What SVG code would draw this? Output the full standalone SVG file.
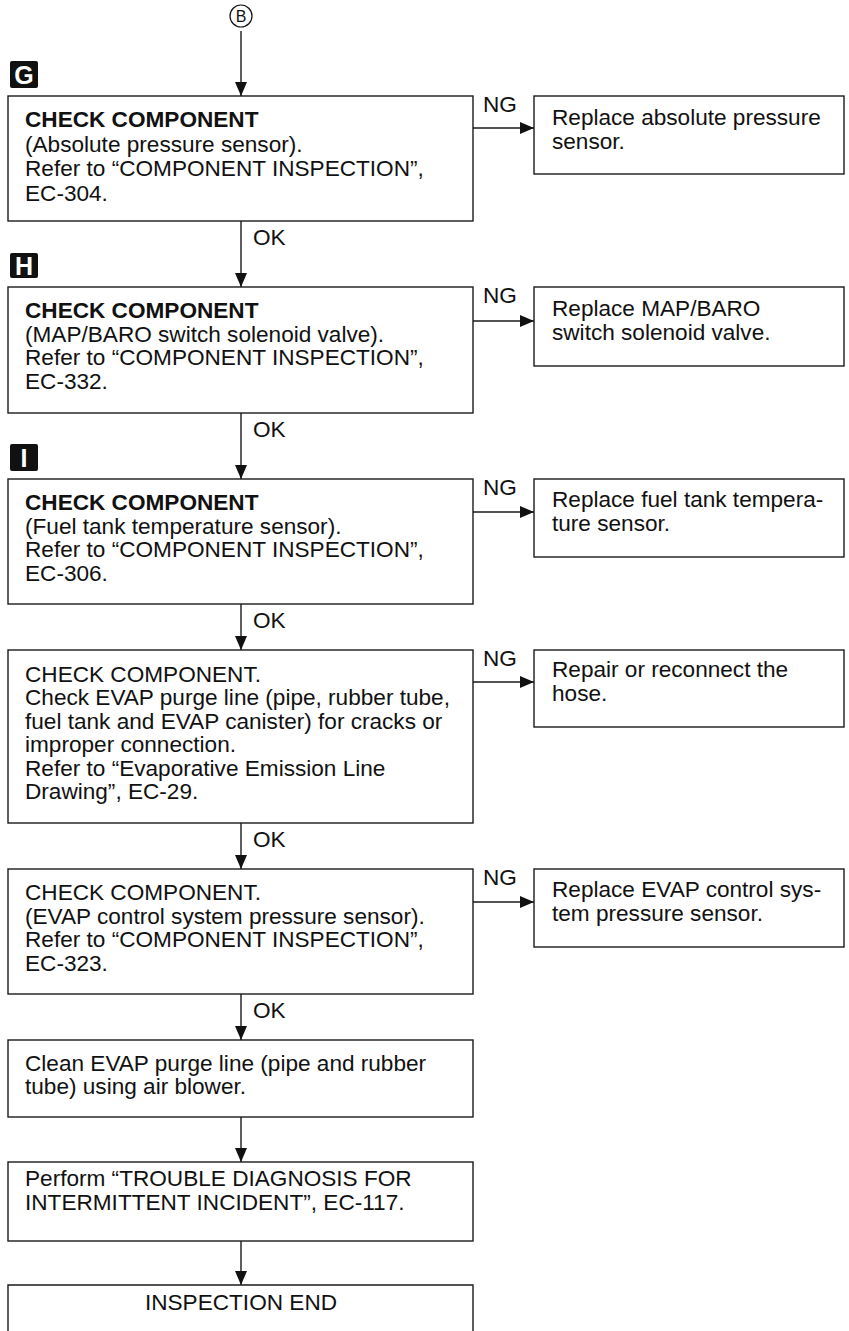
<svg xmlns="http://www.w3.org/2000/svg" width="849" height="1331" viewBox="0 0 849 1331">
<style>
.box{fill:#fff;stroke:#1a1a1a;stroke-width:1.4}
.t{font-family:"Liberation Sans",Arial,sans-serif;font-size:22.6px;fill:#111}
.b{font-weight:bold}
.ln{stroke:#1a1a1a;stroke-width:1.4;fill:none}
.tag{fill:#111}
.tagt{font-family:"Liberation Sans",Arial,sans-serif;font-size:25px;font-weight:bold;fill:#fff}
</style>
<defs>
<marker id="ah" viewBox="0 0 14 12" refX="14" refY="6" markerWidth="14" markerHeight="12" markerUnits="userSpaceOnUse" orient="auto">
<path d="M0,0 L14,6 L0,12 Z" fill="#111"/>
</marker>
</defs>
<rect width="849" height="1331" fill="#fff"/>

<g id="start">
<circle cx="241" cy="16" r="11" fill="#fff" stroke="#111" stroke-width="1.2"/>
<text x="241" y="22" text-anchor="middle" font-family="Liberation Sans,Arial,sans-serif" font-size="16" fill="#111">B</text>
</g>

<g id="connectors">
<line class="ln" x1="241" y1="31" x2="241" y2="96" marker-end="url(#ah)"/>
<line class="ln" x1="241" y1="221" x2="241" y2="287" marker-end="url(#ah)"/>
<line class="ln" x1="241" y1="413" x2="241" y2="479" marker-end="url(#ah)"/>
<line class="ln" x1="241" y1="604" x2="241" y2="650" marker-end="url(#ah)"/>
<line class="ln" x1="241" y1="823" x2="241" y2="869" marker-end="url(#ah)"/>
<line class="ln" x1="241" y1="994" x2="241" y2="1040" marker-end="url(#ah)"/>
<line class="ln" x1="241" y1="1117" x2="241" y2="1162" marker-end="url(#ah)"/>
<line class="ln" x1="241" y1="1241" x2="241" y2="1285" marker-end="url(#ah)"/>
<line class="ln" x1="473" y1="128" x2="534" y2="128" marker-end="url(#ah)"/>
<line class="ln" x1="473" y1="321" x2="534" y2="321" marker-end="url(#ah)"/>
<line class="ln" x1="473" y1="512" x2="534" y2="512" marker-end="url(#ah)"/>
<line class="ln" x1="473" y1="682" x2="534" y2="682" marker-end="url(#ah)"/>
<line class="ln" x1="473" y1="902" x2="534" y2="902" marker-end="url(#ah)"/>
<text class="t" x="253" y="245">OK</text>
<text class="t" x="253" y="437">OK</text>
<text class="t" x="253" y="628">OK</text>
<text class="t" x="253" y="847">OK</text>
<text class="t" x="253" y="1018">OK</text>
<text class="t" x="483" y="112">NG</text>
<text class="t" x="483" y="303">NG</text>
<text class="t" x="483" y="495">NG</text>
<text class="t" x="483" y="666">NG</text>
<text class="t" x="483" y="885">NG</text>
</g>

<g id="tagG">
<rect class="tag" x="10" y="61" width="28" height="27" rx="2"/>
<text class="tagt" x="24" y="84" text-anchor="middle">G</text>
</g>
<g id="tagH">
<rect class="tag" x="10" y="253" width="28" height="25" rx="2"/>
<text class="tagt" x="24" y="275" text-anchor="middle">H</text>
</g>
<g id="tagI">
<rect class="tag" x="10" y="444" width="28" height="27" rx="2"/>
<text class="tagt" x="24" y="467" text-anchor="middle">I</text>
</g>

<g id="nodeG">
<rect class="box" x="8" y="96" width="465" height="125"/>
<text class="t" x="25"><tspan class="b" y="127">CHECK COMPONENT</tspan><tspan x="25" y="151.5">(Absolute pressure sensor).</tspan><tspan x="25" y="176">Refer to “COMPONENT INSPECTION”,</tspan><tspan x="25" y="200.5">EC-304.</tspan></text>
</g>
<g id="nodeG_ng">
<rect class="box" x="534" y="96" width="310" height="78"/>
<text class="t" x="552"><tspan y="125">Replace absolute pressure</tspan><tspan x="552" y="149">sensor.</tspan></text>
</g>

<g id="nodeH">
<rect class="box" x="8" y="287" width="465" height="126"/>
<text class="t" x="25"><tspan class="b" y="317.5">CHECK COMPONENT</tspan><tspan x="25" y="341.5">(MAP/BARO switch solenoid valve).</tspan><tspan x="25" y="365">Refer to “COMPONENT INSPECTION”,</tspan><tspan x="25" y="388.5">EC-332.</tspan></text>
</g>
<g id="nodeH_ng">
<rect class="box" x="534" y="287" width="310" height="79"/>
<text class="t" x="552"><tspan y="315.5">Replace MAP/BARO</tspan><tspan x="552" y="340">switch solenoid valve.</tspan></text>
</g>

<g id="nodeI">
<rect class="box" x="8" y="479" width="465" height="125"/>
<text class="t" x="25"><tspan class="b" y="510">CHECK COMPONENT</tspan><tspan x="25" y="533.5">(Fuel tank temperature sensor).</tspan><tspan x="25" y="557">Refer to “COMPONENT INSPECTION”,</tspan><tspan x="25" y="580.5">EC-306.</tspan></text>
</g>
<g id="nodeI_ng">
<rect class="box" x="534" y="479" width="310" height="78"/>
<text class="t" x="552"><tspan y="506.5">Replace fuel tank tempera-</tspan><tspan x="552" y="531">ture sensor.</tspan></text>
</g>

<g id="node4">
<rect class="box" x="8" y="650" width="465" height="173"/>
<text class="t" x="25"><tspan y="681.5">CHECK COMPONENT.</tspan><tspan x="25" y="705">Check EVAP purge line (pipe, rubber tube,</tspan><tspan x="25" y="728.5">fuel tank and EVAP canister) for cracks or</tspan><tspan x="25" y="752">improper connection.</tspan><tspan x="25" y="775.5">Refer to “Evaporative Emission Line</tspan><tspan x="25" y="799">Drawing”, EC-29.</tspan></text>
</g>
<g id="node4_ng">
<rect class="box" x="534" y="650" width="310" height="77"/>
<text class="t" x="552"><tspan y="676.5">Repair or reconnect the</tspan><tspan x="552" y="700.5">hose.</tspan></text>
</g>

<g id="node5">
<rect class="box" x="8" y="869" width="465" height="125"/>
<text class="t" x="25"><tspan y="900">CHECK COMPONENT.</tspan><tspan x="25" y="923.5">(EVAP control system pressure sensor).</tspan><tspan x="25" y="947">Refer to “COMPONENT INSPECTION”,</tspan><tspan x="25" y="970.5">EC-323.</tspan></text>
</g>
<g id="node5_ng">
<rect class="box" x="534" y="869" width="310" height="78"/>
<text class="t" x="552"><tspan y="896.5">Replace EVAP control sys-</tspan><tspan x="552" y="921">tem pressure sensor.</tspan></text>
</g>

<g id="node6">
<rect class="box" x="8" y="1040" width="465" height="77"/>
<text class="t" x="25"><tspan y="1070.5">Clean EVAP purge line (pipe and rubber</tspan><tspan x="25" y="1094">tube) using air blower.</tspan></text>
</g>

<g id="node7">
<rect class="box" x="8" y="1162" width="465" height="79"/>
<text class="t" x="25"><tspan y="1186">Perform “TROUBLE DIAGNOSIS FOR</tspan><tspan x="25" y="1209.5">INTERMITTENT INCIDENT”, EC-117.</tspan></text>
</g>

<g id="node8">
<path class="ln" d="M8,1340 V1285 H473 V1340"/>
<text class="t" x="241" y="1310" text-anchor="middle">INSPECTION END</text>
</g>
</svg>
